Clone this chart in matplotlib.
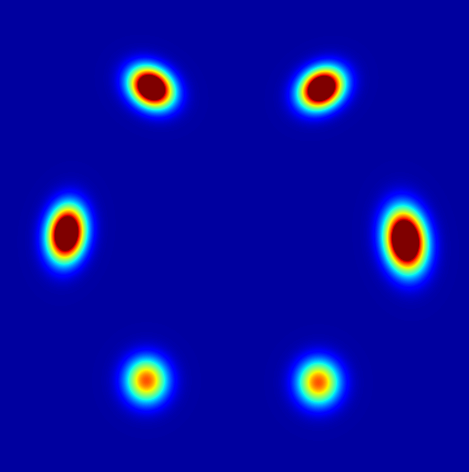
import numpy as np
import matplotlib
matplotlib.use("Agg")
import matplotlib.pyplot as plt

# mode parameters (pixel coordinates of the image)
cx = [151, 321, 66, 405, 146, 318]
cy = [87, 88, 233, 240, 380, 382]
sx = [15, 15, 12, 13, 14, 14]
sy = [12, 12, 18, 20, 15, 15]
ang = [35, -35, 8, -8, 0, 0]   # degrees
amp = [1.7, 1.7, 1.7, 1.8, 0.9, 0.9]

W, H = 469, 472
X, Y = np.meshgrid(np.arange(W), np.arange(H))
Z = np.zeros((H, W))
for x0, y0, a, b, t, A in zip(cx, cy, sx, sy, ang, amp):
    th = np.deg2rad(t)
    dx, dy = X - x0, Y - y0
    u = dx*np.cos(th) + dy*np.sin(th)
    v = -dx*np.sin(th) + dy*np.cos(th)
    Z += A*np.exp(-0.5*((u/a)**2 + (v/b)**2))

fig = plt.figure(figsize=(4.69, 4.72), dpi=100)
ax = fig.add_axes([0, 0, 1, 1])
ax.imshow(Z, cmap="jet", vmin=-0.035, vmax=1.1, interpolation="bilinear", aspect="auto")
ax.axis("off")
fig.savefig("out.png", dpi=100)
